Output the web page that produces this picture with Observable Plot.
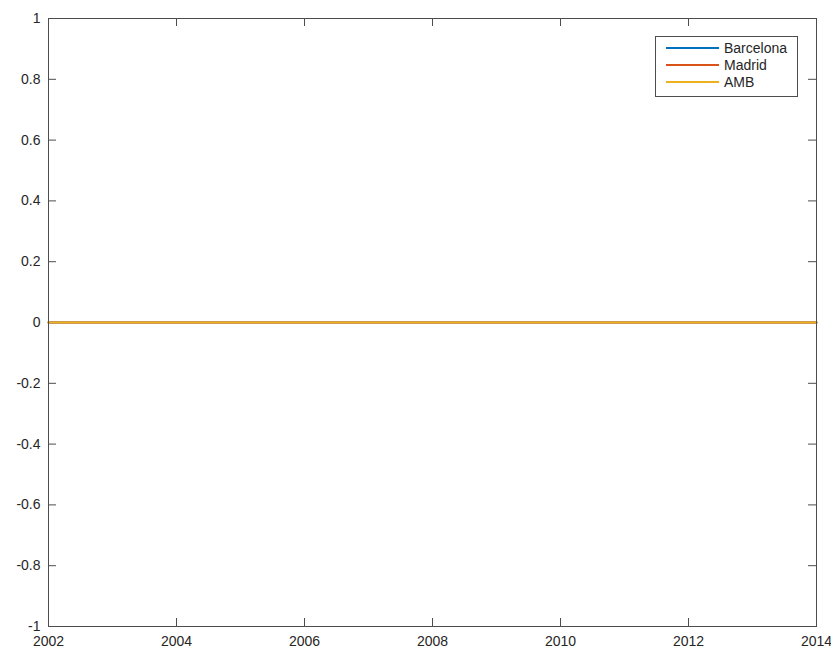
<!DOCTYPE html>
<html>
<head>
<meta charset="utf-8">
<script src="https://cdn.jsdelivr.net/npm/d3@7"></script>
<script src="https://cdn.jsdelivr.net/npm/@observablehq/plot@0.6"></script>
<style>
  html, body { margin: 0; padding: 0; background: #fff; }
  #wrap { position: relative; width: 831px; height: 649px; font-family: "Liberation Sans", Arial, sans-serif; }
  #legend { position: absolute; left: 655px; top: 36px; width: 141px; height: 59px; border: 1px solid #4d4d4d; background: #fff; font-size: 14px; color: #262626; }
  .row { position: absolute; left: 0; height: 17px; display: flex; align-items: center; }
  .sw { width: 53px; height: 2px; margin-left: 10px; margin-right: 5px; }
</style>
</head>
<body>
<div id="wrap"></div>
<script>
const years = [2002, 2003, 2004, 2005, 2006, 2007, 2008, 2009, 2010, 2011, 2012, 2013, 2014];
const barcelona = [0, 0, 0, 0, 0, 0, 0, 0, 0, 0, 0, 0, 0];
const madrid = [0, 0, 0, 0, 0, 0, 0, 0, 0, 0, 0, 0, 0];
const amb = [0, 0, 0, 0, 0, 0, 0, 0, 0, 0, 0, 0, 0];
const seriesNames = ["Barcelona", "Madrid", "AMB"];
const seriesColors = ["#0072BD", "#D95319", "#EDB120"];
const xTicks = [2002, 2004, 2006, 2008, 2010, 2012, 2014];
const yTicks = [-1, -0.8, -0.6, -0.4, -0.2, 0, 0.2, 0.4, 0.6, 0.8, 1];

const seriesValues = [barcelona, madrid, amb];
const data = [];
seriesNames.forEach((name, i) => {
  years.forEach((y, j) => data.push({series: name, year: y, value: seriesValues[i][j]}));
});

const W = 831, H = 649;
const mL = 48, mR = 15, mT = 18, mB = 23;
const fw = W - mL - mR, fh = H - mT - mB;
const tl = 8;
const axisColor = "#4d4d4d";

const chart = Plot.plot({
  width: W, height: H,
  marginLeft: mL, marginRight: mR, marginTop: mT, marginBottom: mB,
  style: {fontFamily: "'Liberation Sans', Arial, sans-serif", fontSize: "14px", color: "#262626", background: "#fff", overflow: "visible"},
  x: {domain: [2002, 2014]},
  y: {domain: [-1, 1]},
  color: {domain: seriesNames, range: seriesColors},
  marks: [
    Plot.tickX(xTicks, {x: d => d, insetTop: fh - tl, stroke: axisColor}),
    Plot.tickX(xTicks, {x: d => d, insetBottom: fh - tl, stroke: axisColor}),
    Plot.tickY(yTicks, {y: d => d, insetRight: fw - tl, stroke: axisColor}),
    Plot.tickY(yTicks, {y: d => d, insetLeft: fw - tl, stroke: axisColor}),
    Plot.lineY(data, {x: "year", y: "value", z: "series", stroke: "series", strokeWidth: 2}),
    Plot.frame({stroke: axisColor, strokeWidth: 1}),
    Plot.axisX({ticks: xTicks, tickFormat: d => String(d), tickSize: 0, tickPadding: 10, label: null, fill: "#262626", fontSize: 14}),
    Plot.axisY({ticks: yTicks, tickFormat: d => String(d), tickSize: 0, tickPadding: 8, label: null, fill: "#262626", fontSize: 14})
  ]
});
const wrap = document.getElementById("wrap");
wrap.appendChild(chart);

const legend = document.createElement("div");
legend.id = "legend";
seriesNames.forEach((name, i) => {
  const row = document.createElement("div");
  row.className = "row";
  row.style.top = (2 + i * 17) + "px";
  const sw = document.createElement("div");
  sw.className = "sw";
  sw.style.background = seriesColors[i];
  const t = document.createElement("span");
  t.textContent = name;
  row.appendChild(sw); row.appendChild(t);
  legend.appendChild(row);
});
wrap.appendChild(legend);
</script>
</body>
</html>
